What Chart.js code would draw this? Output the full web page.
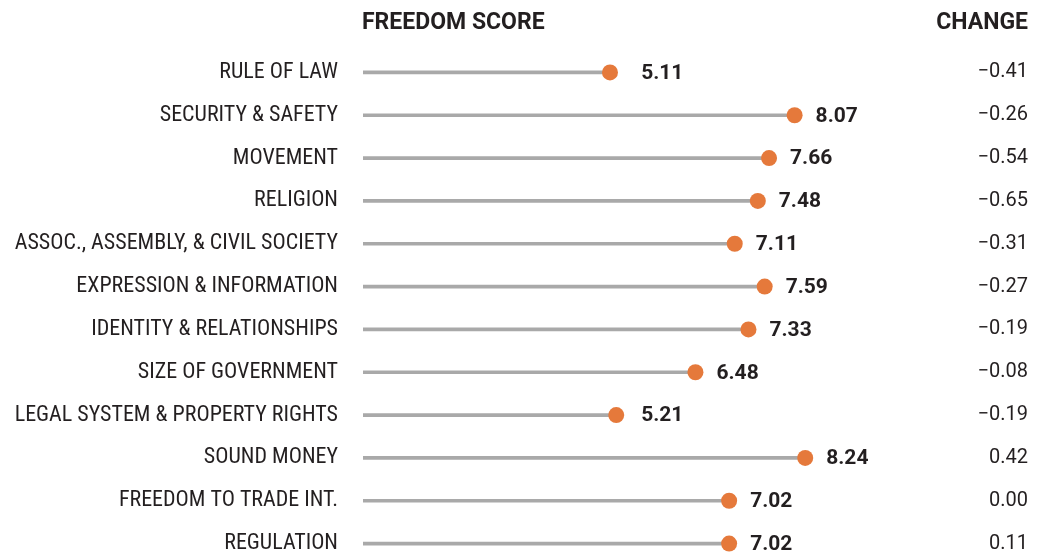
<!DOCTYPE html>
<html>
<head>
<meta charset="utf-8">
<script src="https://cdn.jsdelivr.net/npm/chart.js@4/dist/chart.umd.min.js"></script>
<style>
  html, body { margin: 0; padding: 0; background: #fff; overflow: hidden; }
</style>
</head>
<body>
<canvas id="myChart" width="1043" height="565"></canvas>
<script>
var categories = ['RULE OF LAW', 'SECURITY & SAFETY', 'MOVEMENT', 'RELIGION',
  'ASSOC., ASSEMBLY, & CIVIL SOCIETY', 'EXPRESSION & INFORMATION', 'IDENTITY & RELATIONSHIPS',
  'SIZE OF GOVERNMENT', 'LEGAL SYSTEM & PROPERTY RIGHTS', 'SOUND MONEY',
  'FREEDOM TO TRADE INT.', 'REGULATION'];
var scores = [5.11, 8.07, 7.66, 7.48, 7.11, 7.59, 7.33, 6.48, 5.21, 8.24, 7.02, 7.02];
var changes = ['\u22120.41', '\u22120.26', '\u22120.54', '\u22120.65', '\u22120.31', '\u22120.27',
  '\u22120.19', '\u22120.08', '\u22120.19', '0.42', '0.00', '0.11'];

var NARROW = "'Roboto Condensed', Roboto, sans-serif";
var FONT = "Roboto, sans-serif";
var TEXT = '#231f20';
var ORANGE = '#e5793b';

// headers + score labels next to the dots
var labelsPlugin = {
  id: 'labelsPlugin',
  afterDatasetsDraw: function(chart) {
    var ctx = chart.ctx;
    var area = chart.chartArea;
    var xs = chart.scales.x;
    var ys = chart.scales.y;
    ctx.save();
    ctx.fillStyle = TEXT;
    ctx.textBaseline = 'middle';
    ctx.font = 'bold 23px ' + FONT;
    ctx.textAlign = 'left';
    ctx.fillText('FREEDOM SCORE', area.left - 1, 23);
    ctx.textAlign = 'right';
    ctx.fillText('CHANGE', chart.scales.y2.right, 23);

    ctx.textAlign = 'left';
    ctx.font = 'bold 21px ' + FONT;
    var minX = xs.getPixelForValue(5.61);
    scores.forEach(function(v, i) {
      var x = Math.max(xs.getPixelForValue(v) + 21, minX);
      ctx.fillText(v.toFixed(2), x, ys.getPixelForValue(i) + 1);
    });
    ctx.restore();
  }
};

// label axes shouldn't reserve extra space above/below the plot
function noPad(axis, width) {
  axis.width = width;
  axis.paddingTop = 0;
  axis.paddingBottom = 0;
}

var ctx = document.getElementById('myChart').getContext('2d');
var myChart = new Chart(ctx, {
  type: 'bar',
  data: {
    labels: categories,
    datasets: [
      {
        type: 'line',
        data: scores,
        indexAxis: 'y',
        showLine: false,
        pointRadius: 8,
        pointHoverRadius: 8,
        pointBackgroundColor: ORANGE,
        pointBorderWidth: 0,
        borderColor: ORANGE,
        clip: false,
        yAxisID: 'y'
      },
      {
        data: scores,
        indexAxis: 'y',
        backgroundColor: '#a9a9a9',
        barThickness: 3,
        yAxisID: 'y'
      }
    ]
  },
  options: {
    indexAxis: 'y',
    responsive: false,
    animation: false,
    layout: { autoPadding: false, padding: { top: 51, right: 15, left: 0, bottom: 0 } },
    plugins: {
      legend: { display: false },
      tooltip: { enabled: false }
    },
    scales: {
      x: {
        display: false,
        min: 1.15,
        max: 10
      },
      y: {
        position: 'left',
        offset: true,
        border: { display: false },
        grid: { display: false, drawTicks: false },
        ticks: {
          padding: 25,
          color: TEXT,
          font: { family: NARROW, size: 22 }
        },
        afterFit: function(axis) { noPad(axis, 363); }
      },
      y2: {
        position: 'right',
        type: 'category',
        labels: changes,
        offset: true,
        border: { display: false },
        grid: { display: false, drawTicks: false },
        ticks: {
          crossAlign: 'far',
          padding: 0,
          color: TEXT,
          font: { family: FONT, size: 20 }
        },
        afterFit: function(axis) { noPad(axis, 113); }
      }
    }
  },
  plugins: [labelsPlugin]
});
</script>
</body>
</html>
